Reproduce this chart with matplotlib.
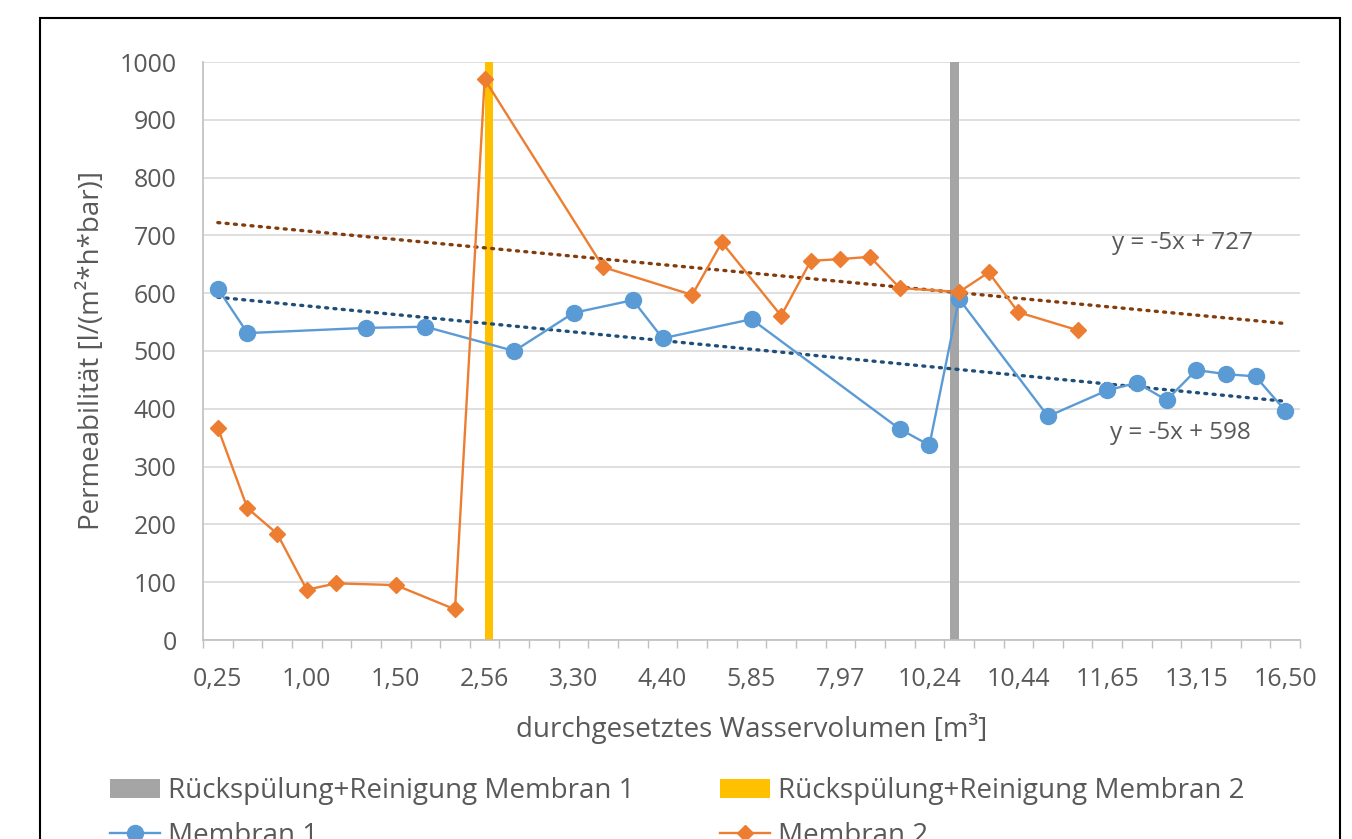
import numpy as np
import matplotlib.pyplot as plt
from matplotlib.patches import Rectangle

nan = np.nan

# category labels (only every third category is labelled on the axis)
x_labels = ["0,25", "1,00", "1,50", "2,56", "3,30", "4,40", "5,85",
            "7,97", "10,24", "10,44", "11,65", "13,15", "16,50"]
n_cat = 37

# Permeabilität, one value per category (nan = no measurement)
membran1 = [608, 531, nan, nan, nan, 540, nan, 542, nan, nan,
            500, nan, 566, nan, 588, 522, nan, nan, 555, nan,
            nan, nan, nan, 365, 337, 590, nan, nan, 387, nan,
            432, 445, 415, 467, 460, 456, 397]
membran2 = [367, 228, 184, 87, 98, nan, 95, nan, 53, 970,
            nan, nan, nan, 645, nan, nan, 597, 688, nan, 561,
            656, 659, 663, 609, nan, 602, 636, 567, nan, 536,
            nan, nan, nan, nan, nan, nan, nan]

# backwash + cleaning markers (column series)
spuelung1 = [1000 if i == 25 else 0 for i in range(n_cat)]
spuelung2 = [1000 if i == 9 else 0 for i in range(n_cat)]

# linear trendlines as shown in the chart (x = 1..n)
trend1 = (-5.0, 598)
trend2 = (-4.85, 727)
trend1_text = "y = -5x + 598"
trend2_text = "y = -5x + 727"

text_col = "#595959"
plt.rcParams['font.family'] = ['Open Sans', 'DejaVu Sans']

fig = plt.figure(figsize=(13.52, 8.39), dpi=100)
ax = fig.add_axes([203 / 1352, 1 - 640 / 839, 1097 / 1352, 578 / 839])

idx = np.arange(n_cat)
bw = 0.29
b1 = ax.bar(idx - bw / 2, spuelung1, width=bw, color="#a5a5a5", zorder=2,
            label="Rückspülung+Reinigung Membran 1")
b2 = ax.bar(idx + bw / 2, spuelung2, width=bw, color="#ffc000", zorder=2,
            label="Rückspülung+Reinigung Membran 2")

m1 = np.array(membran1, dtype=float)
m2 = np.array(membran2, dtype=float)
ok1 = ~np.isnan(m1)
ok2 = ~np.isnan(m2)

l1, = ax.plot(idx[ok1], m1[ok1], color="#5b9bd5", lw=1.7, marker="o",
              ms=11.5, zorder=4, label="Membran 1")
l2, = ax.plot(idx[ok2], m2[ok2], color="#ed7d31", lw=1.7, marker="D",
              ms=8.5, zorder=4, label="Membran 2")

for (k, d), col in [(trend1, "#1f4e79"), (trend2, "#843c0c")]:
    ax.plot(idx, k * (idx + 1) + d, color=col, lw=2.4,
            linestyle=(0, (0.6, 1.9)), dash_capstyle="round", zorder=3)

ax.text(30.09, 358, trend1_text, fontsize=17.5, color=text_col, va="center")
ax.text(30.16, 687, trend2_text, fontsize=17.5, color=text_col, va="center")

ax.set_xlim(-0.5, n_cat - 0.5)
ax.set_ylim(0, 1000)
ax.set_yticks(np.arange(0, 1001, 100))
ax.set_xticks(np.arange(0, n_cat, 3))
ax.set_xticklabels(x_labels)
ax.set_xticks(np.arange(-0.5, n_cat, 1), minor=True)
ax.tick_params(axis="x", which="major", length=0, pad=19.5, labelsize=18,
               labelcolor=text_col)
ax.tick_params(axis="x", which="minor", length=6, width=1, color="#bfbfbf",
               direction="out")
ax.tick_params(axis="y", length=0, pad=19, labelsize=18, labelcolor=text_col)
ax.grid(axis="y", color="#d9d9d9", lw=1.2, zorder=0)
ax.set_axisbelow(True)
for s in ["top", "right"]:
    ax.spines[s].set_visible(False)
ax.spines["left"].set_color("#bfbfbf")
ax.spines["bottom"].set_color("#bfbfbf")
ax.spines["left"].set_linewidth(1.2)
ax.spines["bottom"].set_linewidth(1.2)

ax.set_xlabel("durchgesetztes Wasservolumen [m³]", fontsize=20, color=text_col,
              labelpad=15)
ax.set_ylabel("Permeabilität [l/(m²*h*bar)]", fontsize=20, color=text_col,
              labelpad=10)

fig.legend(handles=[b1, l1, b2, l2], ncol=2, loc="upper left",
           bbox_to_anchor=(85 / 1352, 1 - 752 / 839), frameon=False,
           fontsize=20, labelcolor=text_col, handlelength=1.8,
           handletextpad=0.3, columnspacing=3.05, labelspacing=0.6)

# chart border
fig.patches.append(Rectangle((40 / 1352, -0.1), 1300 / 1352, 1.1 - 18 / 839,
                             transform=fig.transFigure, fill=False,
                             edgecolor="black", lw=1.5))

fig.savefig("out.png", dpi=100)
